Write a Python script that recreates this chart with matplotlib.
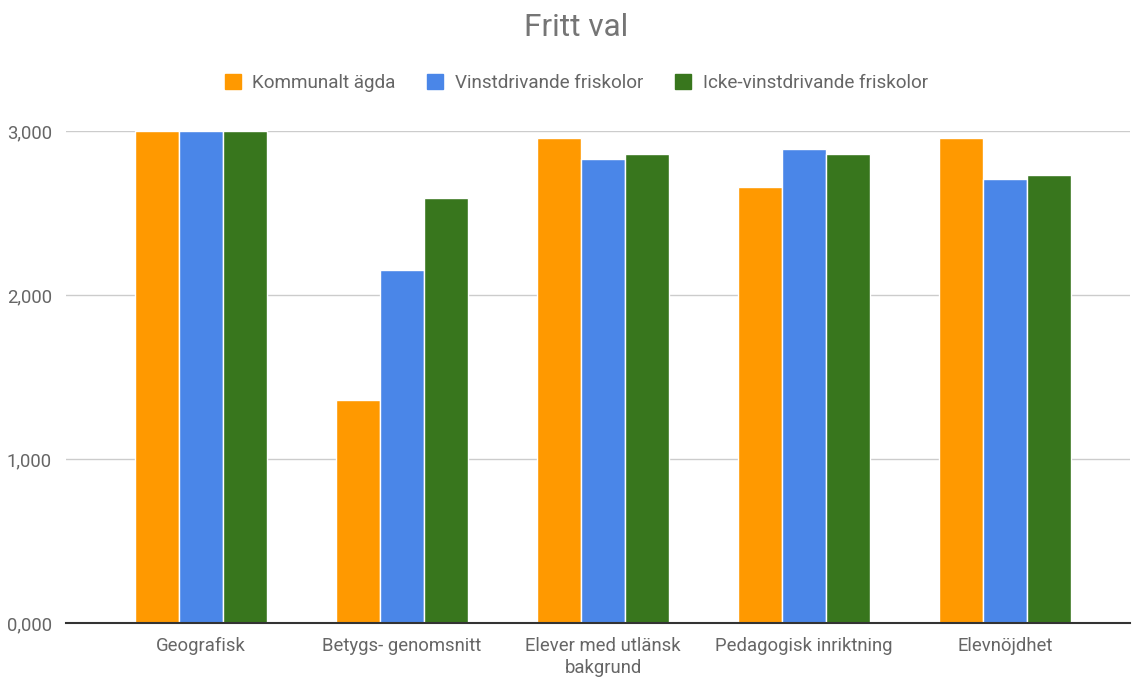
import numpy as np
import matplotlib.pyplot as plt
from matplotlib.patches import Patch

plt.rcParams['font.family'] = ['Roboto', 'DejaVu Sans']

categories = ['Geografisk', 'Betygs- genomsnitt', 'Elever med utlänsk\nbakgrund',
              'Pedagogisk inriktning', 'Elevnöjdhet']
series_names = ['Kommunalt ägda', 'Vinstdrivande friskolor', 'Icke-vinstdrivande friskolor']
kommunalt = [3000, 1360, 2960, 2660, 2960]
vinst = [3000, 2150, 2830, 2890, 2710]
icke_vinst = [3000, 2590, 2860, 2860, 2730]
y_ticks = [0, 1000, 2000, 3000]
y_labels = ['0,000', '1,000', '2,000', '3,000']

colors = ['#ff9900', '#4a86e8', '#38761d']
text_color = '#666666'

fig = plt.figure(figsize=(11.32, 6.77), dpi=100)
ax = fig.add_axes([66 / 1132, 54 / 677, (1130 - 66) / 1132, (623 - 131) / 677])

x = np.arange(len(categories))
w = 0.219
for i, (vals, c) in enumerate(zip([kommunalt, vinst, icke_vinst], colors)):
    ax.bar(x + (i - 1) * w, vals, width=w, color=c, edgecolor='white',
           linewidth=1, zorder=3)

ax.set_xlim(-0.672, 4.622)
ax.set_ylim(0, 3000)
ax.set_yticks(y_ticks)
ax.set_yticklabels(y_labels)
ax.set_xticks(x)
ax.set_xticklabels(categories, linespacing=1.3)
ax.tick_params(axis='both', length=0, labelsize=13.3, colors=text_color)
ax.tick_params(axis='y', pad=10)
ax.tick_params(axis='x', pad=10)

ax.grid(axis='y', color='#cccccc', linewidth=1, zorder=0)
ax.set_axisbelow(True)
for s in ['top', 'right', 'left']:
    ax.spines[s].set_visible(False)
ax.spines['bottom'].set_color('#333333')
ax.spines['bottom'].set_linewidth(1.5)
ax.spines['bottom'].set_zorder(4)

fig.text(0.509, 1 - 27 / 677, 'Fritt val', ha='center', va='center',
         fontsize=22.7, color='#757575')

handles = [Patch(facecolor=c, edgecolor=c) for c in colors]
fig.legend(handles, series_names, loc='center', ncol=3,
           bbox_to_anchor=(0.509, 1 - 83 / 677), frameon=False,
           fontsize=13.6, labelcolor=text_color, handlelength=0.85,
           handleheight=0.85, handletextpad=0.6, columnspacing=1.7)

fig.savefig('out.png', dpi=100)
